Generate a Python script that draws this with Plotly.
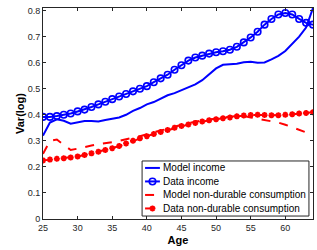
import plotly.graph_objects as go

ages = list(range(25, 65))

model_income = [0.32, 0.37, 0.383, 0.377, 0.366, 0.372, 0.376, 0.376, 0.374, 0.38,
                0.385, 0.39, 0.40, 0.415, 0.426, 0.44, 0.449, 0.462, 0.475, 0.483,
                0.495, 0.507, 0.517, 0.533, 0.555, 0.578, 0.592, 0.594, 0.596, 0.602,
                0.604, 0.600, 0.601, 0.613, 0.626, 0.645, 0.673, 0.70, 0.735, 0.81]

data_income = [0.392, 0.392, 0.395, 0.40, 0.405, 0.413, 0.42, 0.43, 0.44, 0.45,
               0.46, 0.47, 0.48, 0.49, 0.50, 0.51, 0.525, 0.54, 0.554, 0.573,
               0.59, 0.608, 0.62, 0.627, 0.635, 0.64, 0.644, 0.65, 0.661, 0.678,
               0.697, 0.719, 0.746, 0.768, 0.785, 0.791, 0.785, 0.768, 0.753, 0.746]

model_cons = [0.25, 0.30, 0.305, 0.285, 0.265, 0.27, 0.277, 0.282, 0.287, 0.29,
              0.295, 0.30, 0.305, 0.312, 0.318, 0.326, 0.333, 0.34, 0.346, 0.355,
              0.362, 0.368, 0.374, 0.378, 0.382, 0.386, 0.39, 0.393, 0.395, 0.395,
              0.39, 0.385, 0.38, 0.375, 0.37, 0.362, 0.352, 0.343, 0.333, 0.323]

data_cons = [0.225, 0.228, 0.231, 0.233, 0.236, 0.24, 0.246, 0.252, 0.258, 0.265,
             0.272, 0.28, 0.29, 0.30, 0.31, 0.318, 0.326, 0.334, 0.342, 0.35,
             0.357, 0.363, 0.369, 0.374, 0.379, 0.383, 0.387, 0.39, 0.394, 0.397,
             0.399, 0.40, 0.399, 0.398, 0.398, 0.40, 0.402, 0.405, 0.407, 0.41]

series_names = ["Model income", "Data income",
                "Model non-durable consumption", "Data non-durable consumption"]

x_ticks = [25, 30, 35, 40, 45, 50, 55, 60]
y_ticks = [0, 0.1, 0.2, 0.3, 0.4, 0.5, 0.6, 0.7, 0.8]

X_RANGE = [25, 64]
Y_RANGE = [0, 0.81]

BLUE = "#0000ff"
RED = "#ff0000"
AX = "#262626"
FONT = "Liberation Sans, Arial"

line_styles = [
    dict(color=BLUE, width=2),
    dict(color=BLUE, width=2),
    dict(color=RED, width=2, dash="dash"),
    dict(color=RED, width=2, dash="dash"),
]
marker_styles = [
    None,
    dict(symbol="circle-open", size=6.5, color=BLUE, line=dict(width=1.6, color=BLUE)),
    None,
    dict(symbol="asterisk-open", size=5, color=RED, line=dict(width=1.8, color=RED)),
]
series = [model_income, data_income, model_cons, data_cons]

fig = go.Figure()
for name, ys, ln, mk in zip(series_names, series, line_styles, marker_styles):
    if mk is None:
        fig.add_trace(go.Scatter(x=ages, y=ys, name=name, mode="lines", line=ln, showlegend=False))
    else:
        fig.add_trace(go.Scatter(x=ages, y=ys, name=name, mode="lines+markers", line=ln,
                                 marker=mk, showlegend=False))

# compact MATLAB-like legend box (paper fractions of the plot area)
lx0, lx1, ly0, ly1 = 0.367, 0.985, 0.014, 0.275
row_y = [0.242, 0.178, 0.114, 0.050]
sx0, sx1, sxm, tx = 0.378, 0.433, 0.4055, 0.445


def px(f):
    return X_RANGE[0] + f * (X_RANGE[1] - X_RANGE[0])


def py(f):
    return Y_RANGE[0] + f * (Y_RANGE[1] - Y_RANGE[0])


fig.add_shape(type="rect", xref="paper", yref="paper", x0=lx0, x1=lx1, y0=ly0, y1=ly1,
              line=dict(color=AX, width=1), fillcolor="white", layer="below")
for name, ln, mk, ry in zip(series_names, line_styles, marker_styles, row_y):
    fig.add_trace(go.Scatter(x=[px(sx0), px(sx1)], y=[py(ry), py(ry)], mode="lines",
                             line=ln, showlegend=False, hoverinfo="skip"))
    if mk is not None:
        fig.add_trace(go.Scatter(x=[px(sxm)], y=[py(ry)], mode="markers", marker=mk,
                                 showlegend=False, hoverinfo="skip"))
    fig.add_annotation(x=tx, y=ry, xref="paper", yref="paper", text=name, showarrow=False,
                       xanchor="left", yanchor="middle", xshift=-2,
                       font=dict(family=FONT, size=10, color="#000"))

axis_common = dict(showline=True, linecolor=AX, linewidth=1, mirror="ticks",
                   ticks="inside", ticklen=3, tickcolor=AX, showgrid=False,
                   zeroline=False, tickfont=dict(family=FONT, size=9, color=AX))

fig.update_layout(
    xaxis=dict(range=X_RANGE, tickvals=x_ticks, ticktext=[str(t) for t in x_ticks],
               title=dict(text="<b>Age</b>", font=dict(family=FONT, size=11, color="#000"), standoff=4),
               **axis_common),
    yaxis=dict(range=Y_RANGE, tickvals=y_ticks,
               ticktext=[f"{t:.1f}" if t else "0" for t in y_ticks],
               title=dict(text="<b>Var(log)</b>", font=dict(family=FONT, size=11, color="#000"), standoff=0),
               **axis_common),
    width=317, height=250,
    margin=dict(l=43, r=4, t=8, b=31, autoexpand=False),
    paper_bgcolor="white", plot_bgcolor="white",
    showlegend=False,
)

fig.write_html("out.html", config={"displayModeBar": False},
               post_script="document.body.style.margin='0';document.body.style.overflow='hidden';")
